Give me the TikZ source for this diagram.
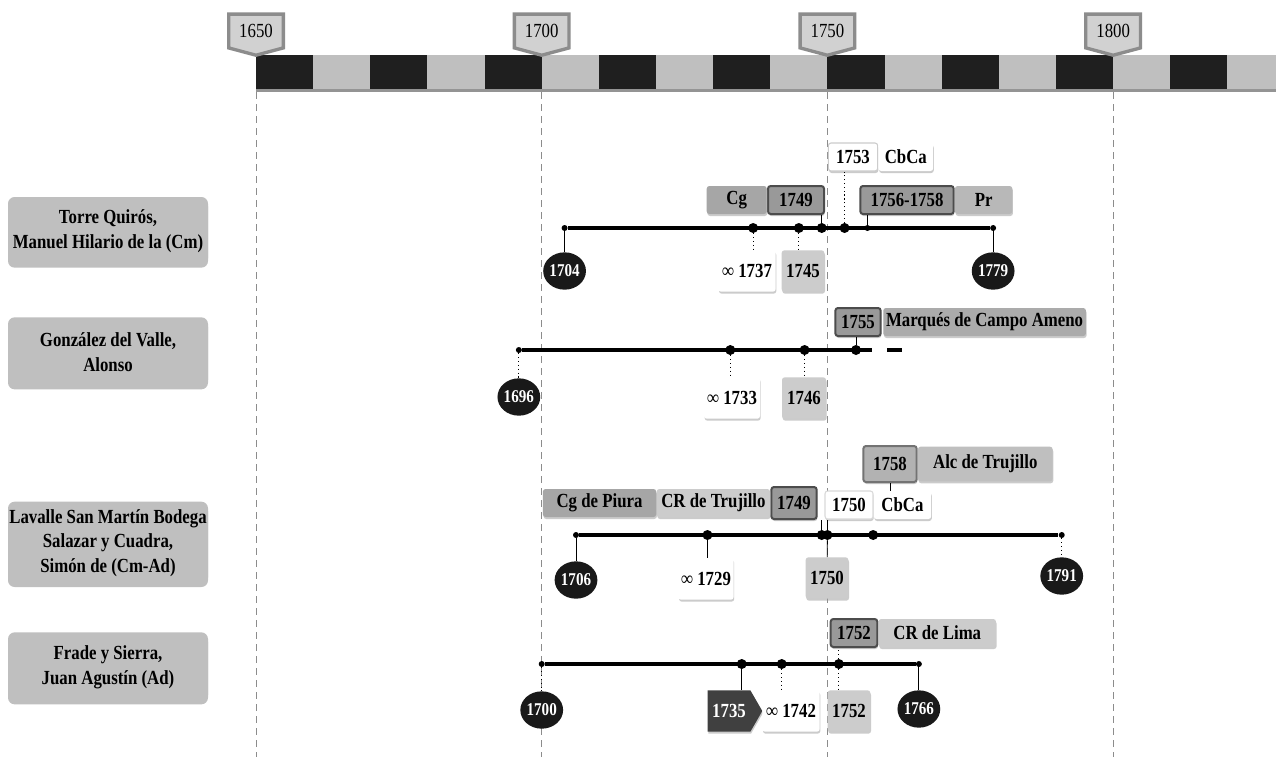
\documentclass[tikz,border=0pt]{standalone}
\usepackage{fontspec}
\setmainfont{Liberation Serif}[FakeStretch=0.84]
\usetikzlibrary{positioning, shapes.geometric, shapes.symbols, shadows}

\newcommand{\yr}[1]{256+(#1-1650)*5.7143}

\begin{document}
\begin{tikzpicture}[x=0.75pt, y=-0.75pt,
        namebox/.style={rounded corners=5pt, fill=black!25, minimum width=150pt,
                        inner xsep=0pt, align=center,
                        font=\bfseries\fontsize{15}{18.5}\selectfont,
                        drop shadow={shadow xshift=0pt, shadow yshift=-2pt, fill=black!50}},
        badge/.style={signal, signal to=south, signal pointer angle=150, fill=black!18,
                      draw=black!45, line width=2.5pt, minimum width=41pt,
                      minimum height=29pt, inner sep=1pt,
                      font=\fontsize{15}{17}\selectfont},
        ev/.style={circle, fill=black, minimum size=7.5pt, inner sep=0pt},
        lim/.style={circle, fill=black, minimum size=4.5pt, inner sep=0pt},
        life/.style={line width=2.3pt},
        link/.style={line width=0.6pt},
        dots/.style={dotted, line width=0.9pt},
        yrball/.style={ellipse, fill=black!90, text=white, minimum width=32pt,
                       minimum height=28pt, inner sep=0pt,
                       font=\bfseries\fontsize{13.5}{15}\selectfont},
        tag/.style={rounded corners=2pt, minimum height=21pt, inner xsep=2pt,
                    inner ysep=1pt, font=\bfseries\fontsize{15}{17}\selectfont,
                    drop shadow={shadow xshift=0.5pt, shadow yshift=-1.5pt, fill=black!40}},
        tagdark/.style={tag, fill=black!40, draw=black!70, line width=1.5pt},
        tagmid/.style={tag, fill=black!35},
        taglight/.style={tag, fill=black!20},
        tagwhite/.style={tag, fill=white},
        tall/.style={minimum height=31pt},
        flag/.style={tag, sharp corners, signal, signal to=east,
                     signal pointer angle=120, fill=black!75, text=white}]
      \useasboundingbox (0,0) rectangle (1276,757);
      \fill[white] (0,0) rectangle (1276,757);

      % scale bar
      \foreach \i in {0,...,17}{
        \ifodd\i \def\cellcol{black!25}\else \def\cellcol{black!88}\fi
        \fill[\cellcol] ({256+\i*57.143},55) rectangle ({min(256+(\i+1)*57.143,1276)},89);
      }
      \fill[black!42] (256,89) rectangle (1276,92);
      \foreach \k in {1650,1700,1750,1800}{
        \draw[black!45, line width=0.5pt, dash pattern=on 5pt off 4pt]
          ({\yr{\k}},92) -- ({\yr{\k}},757);
        \node[badge] (b\k) at ({\yr{\k}},31) {\k};
      }

      % names
      \node[namebox, minimum height=51pt] (n1) at (108,231)
        {Torre Quirós,\\Manuel Hilario de la (Cm)};
      \node[namebox, minimum height=52pt] (n2) at (108,352)
        {González del Valle,\\Alonso};
      \node[namebox, minimum height=62pt] (n3) at (108,543)
        {Lavalle San Martín Bodega\\Salazar y Cuadra,\\Simón de (Cm-Ad)};
      \node[namebox, minimum height=52pt] (n4) at (108,667)
        {Frade y Sierra,\\Juan Agustín (Ad)};

      % Torre Quiros
      \node[lim] (r1s) at ({\yr{1704}},228) {};
      \node[ev] (r1a) at ({\yr{1737}},228) {};
      \node[ev] (r1b) at ({\yr{1745}},228) {};
      \node[ev] (r1c) at ({\yr{1749}},228) {};
      \node[ev] (r1d) at ({\yr{1753}},228) {};
      \node[lim] (r1e) at ({\yr{1757}},228) {};
      \node[lim] (r1f) at ({\yr{1779}},228) {};
      \draw[life] (r1s) -- (r1f);
      \node[yrball] (r1sy) at ({\yr{1704}},271) {1704};
      \node[yrball] (r1fy) at ({\yr{1779}},271) {1779};
      \node[tagwhite, tall, minimum width=43pt] (r1al) at (747,271) {∞ 1737};
      \node[taglight, tall, minimum width=32pt] (r1bl) at (803,271) {1745};
      \node[tagdark, minimum width=42pt] (r1cl) at (796,200) {1749};
      \node[tagmid, minimum width=45pt, left=0pt of r1cl] (r1cg) {Cg};
      \node[tagwhite, draw=black!20, line width=0.8pt, minimum width=37pt] (r1dl)
        at (853,157) {1753};
      \node[tagwhite, minimum width=41pt, right=0pt of r1dl] (r1dc) {CbCa};
      \node[tagdark, minimum width=70pt] (r1el) at (907,200) {1756-1758};
      \node[tag, fill=black!28, minimum width=43pt, right=0pt of r1el] (r1ep) {Pr};
      \draw[link] (r1s) -- (r1sy);
      \draw[dots] (r1a) -- (r1a |- r1al.north);
      \draw[dots] (r1b) -- (r1b |- r1bl.north);
      \draw[link] (r1c) -- (r1c |- r1cl.south);
      \draw[dots] (r1d) -- (r1d |- r1dl.south);
      \draw[link] (r1e) -- (r1e |- r1el.south);
      \draw[link] (r1f) -- (r1fy);

      % Gonzalez del Valle
      \node[lim] (r2s) at ({\yr{1696}},350) {};
      \node[ev] (r2a) at ({\yr{1733}},350) {};
      \node[ev] (r2b) at ({\yr{1746}},350) {};
      \node[ev] (r2c) at ({\yr{1755}},350) {};
      \coordinate (r2t) at (872,350);
      \coordinate (r2u) at (887,350);
      \coordinate (r2v) at (902,350);
      \draw[life] (r2s) -- (r2t);
      \draw[life] (r2u) -- (r2v);
      \node[yrball] (r2sy) at ({\yr{1696}},397) {1696};
      \node[tagwhite, tall, minimum width=42pt] (r2al) at (732,398) {∞ 1733};
      \node[taglight, tall, minimum width=33pt] (r2bl) at (804,398) {1746};
      \node[tagdark, minimum width=34pt] (r2cl) at (858,322) {1755};
      \node[tag, fill=black!33, minimum width=152pt, right=1pt of r2cl] (r2cm)
        {Marqués de Campo Ameno};
      \draw[dots] (r2s) -- (r2sy);
      \draw[dots] (r2a) -- (r2a |- r2al.north);
      \draw[dots] (r2b) -- (r2b |- r2bl.north);
      \draw[link] (r2c) -- (r2c |- r2cl.south);

      % Lavalle
      \node[lim] (r3s) at ({\yr{1706}},535) {};
      \node[ev] (r3a) at ({\yr{1729}},535) {};
      \node[ev] (r3b) at ({\yr{1749}},535) {};
      \node[ev] (r3c) at ({\yr{1750}},535) {};
      \node[ev] (r3d) at ({\yr{1758}},535) {};
      \node[lim] (r3f) at ({\yr{1791}},535) {};
      \draw[life] (r3s) -- (r3f);
      \node[yrball] (r3sy) at ({\yr{1706}},580) {1706};
      \node[yrball] (r3fy) at ({\yr{1791}},576) {1791};
      \node[tagwhite, tall, minimum width=41pt] (r3al) at (706,579) {∞ 1729};
      \node[taglight, tall, minimum width=32pt] (r3cl) at (827,578) {1750};
      \node[tagdark, minimum width=34pt, minimum height=24pt] (r3bl) at (794,503) {1749};
      \node[taglight, minimum width=85pt, left=0pt of r3bl] (r3bt) {CR de Trujillo};
      \node[tagmid, minimum width=85pt, left=0pt of r3bt] (r3bp) {Cg de Piura};
      \node[tagwhite, draw=black!15, line width=0.8pt, minimum width=36pt] (r3cu)
        at (849,505) {1750};
      \node[tagwhite, minimum width=43pt, right=0pt of r3cu] (r3cc) {CbCa};
      \node[tagdark, fill=black!30, draw=black!55, minimum width=40pt,
            minimum height=27pt] (r3dl) at (890,464) {1758};
      \node[tag, fill=black!25, minimum width=101pt, minimum height=26pt,
            right=0pt of r3dl] (r3da) {Alc de Trujillo};
      \draw[link] (r3s) -- (r3sy);
      \draw[link] (r3a) -- (r3a |- r3al.north);
      \draw[link] (r3b) -- (r3b |- r3bl.south);
      \draw[link] (r3c) -- (r3c |- r3cu.south);
      \draw[link] (r3c) -- (r3cl);
      \draw[link] (r3dl.south) -- (r3dl.south |- r3cc.north);
      \draw[dots] (r3f) -- (r3fy);

      % Frade y Sierra
      \node[lim] (r4s) at ({\yr{1700}},664) {};
      \node[ev] (r4a) at ({\yr{1735}},664) {};
      \node[ev] (r4b) at ({\yr{1742}},664) {};
      \node[ev] (r4c) at ({\yr{1752}},664) {};
      \node[lim] (r4f) at ({\yr{1766}},664) {};
      \draw[life] (r4s) -- (r4f);
      \node[yrball] (r4sy) at ({\yr{1700}},710) {1700};
      \node[yrball] (r4fy) at ({\yr{1766}},709) {1766};
      \node[flag, minimum width=41pt, minimum height=31pt] (r4al) at (729,711) {1735};
      \node[tagwhite, tall, minimum width=43pt] (r4bl) at (791,711) {∞ 1742};
      \node[taglight, tall, minimum width=32pt] (r4cl) at (849,711) {1752};
      \node[tagdark, minimum width=35pt] (r4cu) at (854,633) {1752};
      \node[taglight, minimum width=88pt, right=0pt of r4cu] (r4cr) {CR de Lima};
      \draw[dots] (r4s) -- (r4sy);
      \draw[link] (r4a) -- (r4a |- r4al.north);
      \draw[dots] (r4b) -- (r4b |- r4bl.north);
      \draw[dots] (r4c) -- (r4c |- r4cl.north);
      \draw[dots] (r4c) -- (r4c |- r4cu.south);
      \draw[link] (r4f) -- (r4fy);
    \end{tikzpicture}
\end{document}
